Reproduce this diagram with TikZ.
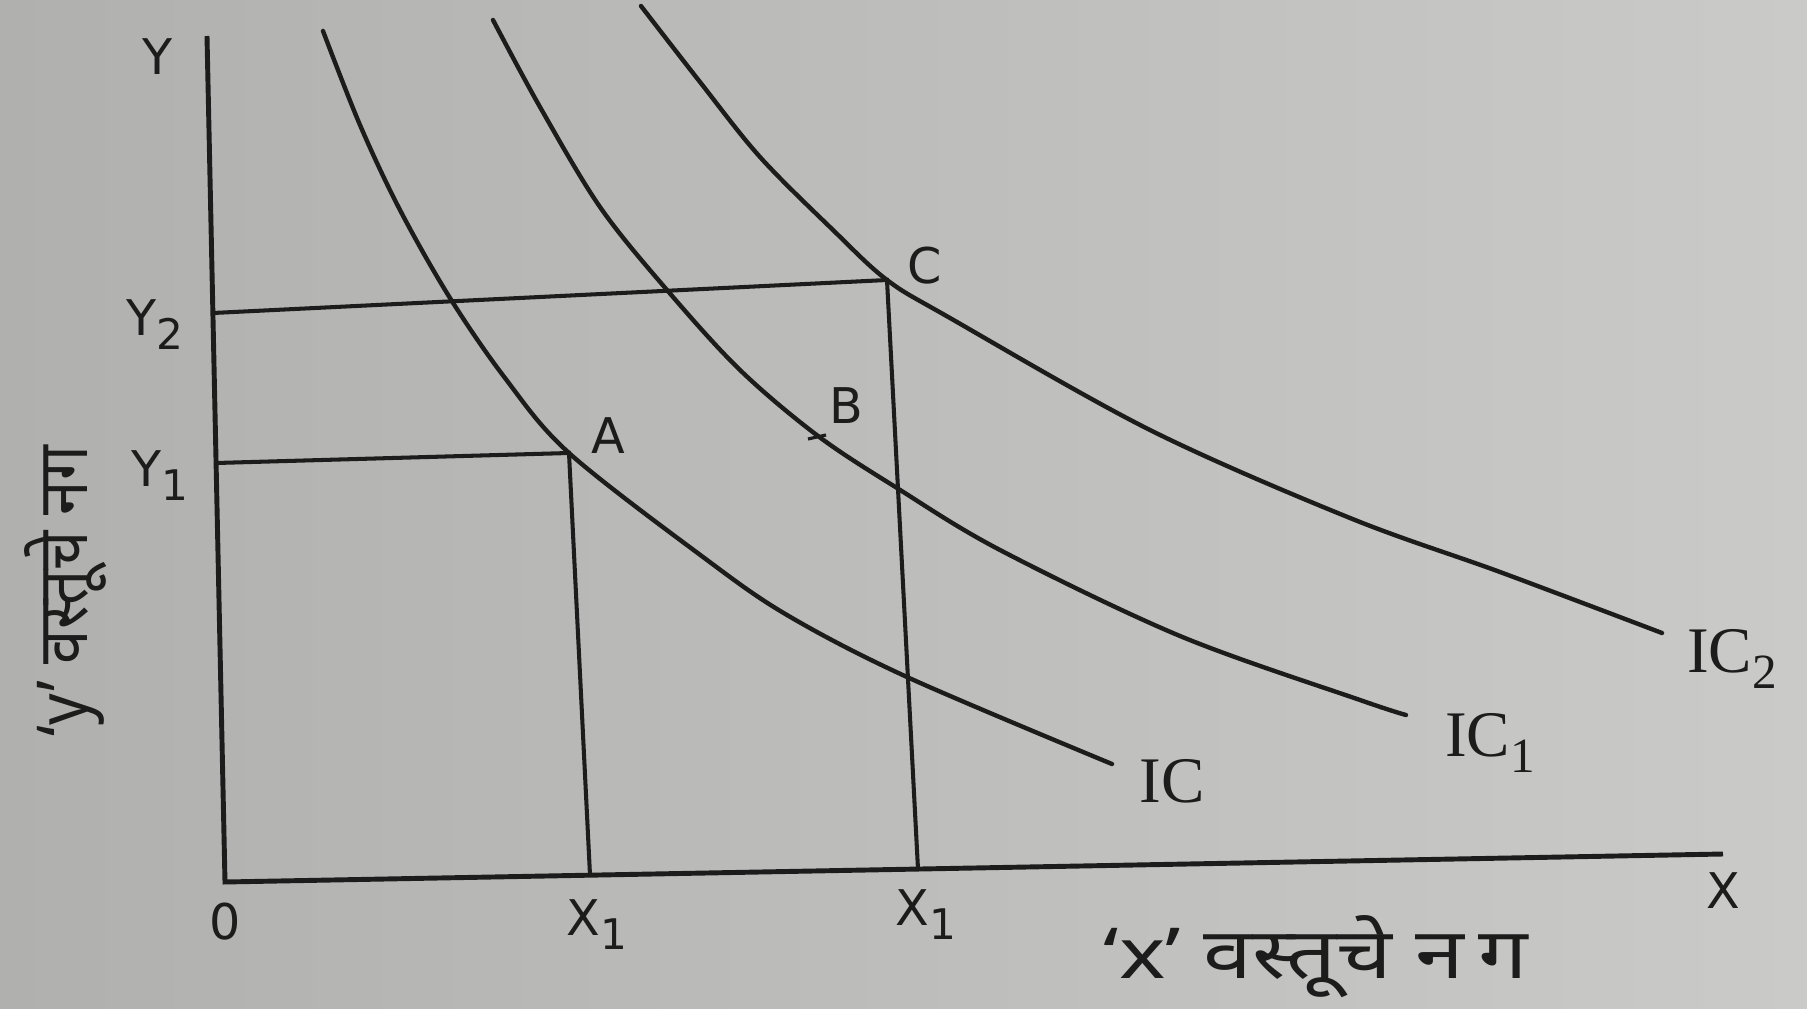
\documentclass[tikz,border=0pt]{standalone}
\usepackage{fontspec}
\setmainfont{DejaVu Sans}
\newfontfamily\devfont[Script=Devanagari]{Noto Sans}
\newfontfamily\icfont{Liberation Serif}
\definecolor{bgL}{RGB}{176,176,174}
\definecolor{bgR}{RGB}{202,202,200}
\definecolor{ink}{RGB}{28,28,28}
\newcommand{\axlbl}[2]{#1\raisebox{-4pt}{\fontsize{12}{12}\selectfont #2}}
\newcommand{\iclbl}[2]{#1\raisebox{-4.8pt}{\fontsize{14}{14}\selectfont #2}}
\begin{document}
\begin{tikzpicture}[x=0.1mm,y=-0.1mm,
  axis/.style={draw=ink,line width=1.4pt},
  guide/.style={draw=ink,line width=1.15pt},
  curve/.style={draw=ink,line width=1.25pt,line cap=round},
  lbl/.style={text=ink,inner sep=0pt,font=\fontsize{14}{14}\selectfont},
  iclab/.style={text=ink,inner sep=0pt,font=\icfont\fontsize{18.5}{18.5}\selectfont},
  devlab/.style={text=ink,inner sep=0pt,font=\devfont\fontsize{20}{20}\selectfont}]
\useasboundingbox (0,0) rectangle (1807,1009);
\shade[left color=bgL,right color=bgR] (0,0) rectangle (1807,1009);
% key points
\coordinate (Ytop) at (207,36);
\coordinate (O) at (225,882);
\coordinate (Xend) at (1723,854);
\coordinate (Y2) at (213,313);
\coordinate (C) at (887,280);
\coordinate (Cx) at (918,869);
\coordinate (Y1) at (216,463);
\coordinate (A) at (569,453);
\coordinate (Ax) at (590,875);
\coordinate (B) at (818,436);
\coordinate (Bt1) at (808,439);
\coordinate (Bt2) at (826,435);
% axes
\draw[axis] (Ytop) -- (O) -- (Xend);
% guides
\draw[guide] (Y2) -- (C) -- (Cx);
\draw[guide] (Y1) -- (A) -- (Ax);
% indifference curves
\draw[curve] plot[smooth,tension=0.55] coordinates {(323,31) (360,125) (400,210) (450,298) (505,378) (569,453) (703,557) (787,615) (907,677) (1112,764)};
\draw[curve] plot[smooth,tension=0.55] coordinates {(493,20) (540,107) (600,207) (667,290) (740,370) (818,436) (897,488) (1000,550) (1180,636) (1360,700) (1406,715)};
\draw[curve] plot[smooth,tension=0.55] coordinates {(641,6) (700,82) (760,157) (833,230) (887,280) (950,318) (1150,430) (1350,518) (1500,572) (1662,633)};
\draw[guide,line width=0.9pt] (Bt1) -- (Bt2);
% labels
\node[lbl] (lY) at (158,57) {Y};
\node[lbl] (lY2) at (155,325) {\axlbl{Y}{2}};
\node[lbl] (lY1) at (160,476) {\axlbl{Y}{1}};
\node[lbl] (lO) at (225,922) {0};
\node[lbl] (lX1a) at (597,925) {\axlbl{X}{1}};
\node[lbl] (lX1b) at (926,915) {\axlbl{X}{1}};
\node[lbl] (lX) at (1723,891) {X};
\node[lbl] (lA) at (608,436) {A};
\node[lbl] (lB) at (846,406) {B};
\node[lbl] (lC) at (925,266) {C};
\node[iclab] (lIC) at (1172,781) {IC};
\node[iclab] (lIC1) at (1490,743) {\iclbl{IC}{1}};
\node[iclab] (lIC2) at (1732,659) {\iclbl{IC}{2}};
\node[devlab] (lx) at (1316,957) {\scalebox{1.25}[1]{‘x’ वस्तूचे न\,ग}};
\node[devlab,rotate=90] (ly) at (66,591) {\scalebox{0.88}[1]{‘y’ वस्तूचे नग}};
\end{tikzpicture}
\end{document}
